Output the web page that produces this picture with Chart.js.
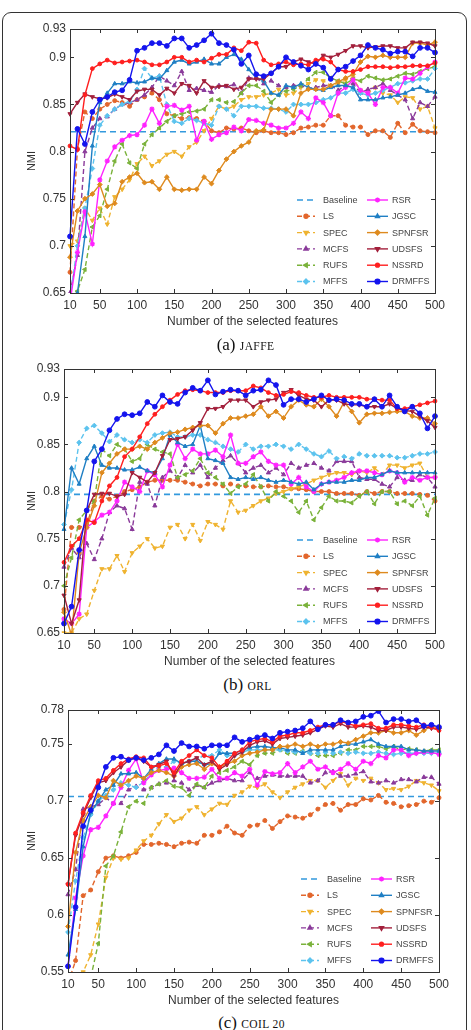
<!DOCTYPE html>
<html>
<head>
<meta charset="utf-8">
<script src="https://cdn.jsdelivr.net/npm/chart.js@4.4.1/dist/chart.umd.min.js"></script>
<style>
  html, body { margin: 0; padding: 0; background: #fff; }
  body { width: 471px; height: 1030px; position: relative; overflow: hidden; }
  #frame { position: absolute; left: 2px; top: 12px; width: 463px; height: 1040px; border: 1.5px solid #333; border-radius: 9px; }
  canvas { position: absolute; left: 0; display: block; }
  .cap { position: absolute; width: 471px; left: 0; text-align: center; font-family: "Liberation Serif", "DejaVu Serif", serif; font-size: 17px; line-height: 20px; color: #111; }
  .cap span { font-size: 11.5px; letter-spacing: 0.4px; }
</style>
</head>
<body>
<div id="frame"></div>
<canvas id="cA" width="471" height="318" style="top:15px"></canvas>
<canvas id="cB" width="471" height="318" style="top:355px"></canvas>
<canvas id="cC" width="471" height="316" style="top:696px"></canvas>
<div class="cap" style="top:335px;left:10px">(a) <span>JAFFE</span></div>
<div class="cap" style="top:675px;left:12px">(b) <span>ORL</span></div>
<div class="cap" style="top:1013px;left:16px">(c) <span>COIL 20</span></div>
<script>
// number of selected features
const features = [10,20,30,40,50,60,70,80,90,100,110,120,130,140,150,160,170,180,190,200,
  210,220,230,240,250,260,270,280,290,300,310,320,330,340,350,360,370,380,390,400,
  410,420,430,440,450,460,470,480,490,500];
const xTicks = [10,50,100,150,200,250,300,350,400,450,500];
const yTicksAB = [0.65,0.7,0.75,0.8,0.85,0.9,0.93];
const yTicksC = [0.55,0.6,0.65,0.7,0.75,0.78];
const methods = ['Baseline','LS','SPEC','MCFS','RUFS','MFFS','RSR','JGSC','SPNFSR','UDSFS','NSSRD','DRMFFS'];

// (a) JAFFE
const jaffeBaseline = 0.821;
const jaffeLS = [0.672,0.803,0.842,0.835,0.845,0.850,0.854,0.852,0.848,0.855,0.858,0.862,0.855,0.840,0.838,0.835,0.836,0.835,0.832,0.822,
  0.820,0.825,0.824,0.825,0.822,0.820,0.822,0.820,0.820,0.818,0.820,0.825,0.826,0.828,0.828,0.838,0.838,0.828,0.826,0.826,
  0.818,0.822,0.822,0.815,0.830,0.820,0.829,0.822,0.821,0.820];
const jaffeSPEC = [0.700,0.705,0.740,0.727,0.740,0.723,0.752,0.760,0.770,0.787,0.795,0.785,0.790,0.797,0.800,0.795,0.805,0.810,0.822,0.835,
  0.848,0.845,0.848,0.855,0.858,0.858,0.860,0.862,0.866,0.860,0.862,0.868,0.872,0.876,0.875,0.870,0.872,0.876,0.878,0.865,
  0.862,0.868,0.862,0.860,0.852,0.858,0.857,0.845,0.848,0.825];
const jaffeMCFS = [0.650,0.690,0.800,0.825,0.835,0.837,0.845,0.850,0.852,0.855,0.860,0.868,0.880,0.875,0.870,0.885,0.865,0.867,0.865,0.863,
  0.870,0.869,0.871,0.862,0.878,0.878,0.872,0.875,0.870,0.868,0.870,0.870,0.867,0.868,0.870,0.870,0.865,0.870,0.872,0.862,
  0.866,0.868,0.872,0.865,0.860,0.855,0.835,0.852,0.848,0.858];
const jaffeRUFS = [0.640,0.652,0.675,0.720,0.732,0.760,0.790,0.808,0.788,0.782,0.808,0.818,0.825,0.832,0.838,0.840,0.842,0.843,0.845,0.855,
  0.855,0.852,0.853,0.862,0.870,0.870,0.864,0.852,0.860,0.864,0.866,0.870,0.877,0.884,0.884,0.878,0.875,0.872,0.877,0.875,
  0.880,0.878,0.876,0.877,0.880,0.883,0.882,0.885,0.888,0.890];
const jaffeMFFS = [0.645,0.700,0.740,0.782,0.828,0.838,0.845,0.850,0.853,0.866,0.888,0.878,0.880,0.850,0.832,0.830,0.835,0.833,0.830,0.828,
  0.848,0.845,0.838,0.848,0.848,0.848,0.846,0.846,0.845,0.842,0.850,0.850,0.850,0.852,0.855,0.857,0.862,0.862,0.866,0.862,
  0.860,0.862,0.865,0.868,0.872,0.873,0.875,0.877,0.877,0.888];
const jaffeRSR = [0.640,0.693,0.736,0.702,0.770,0.790,0.805,0.812,0.817,0.818,0.828,0.845,0.830,0.848,0.849,0.844,0.848,0.812,0.832,0.813,
  0.818,0.820,0.826,0.822,0.834,0.833,0.830,0.828,0.825,0.825,0.830,0.842,0.835,0.857,0.852,0.838,0.862,0.868,0.876,0.865,
  0.862,0.850,0.868,0.868,0.862,0.878,0.877,0.883,0.890,0.895];
const jaffeJGSC = [0.640,0.650,0.710,0.806,0.852,0.862,0.872,0.872,0.874,0.873,0.874,0.878,0.877,0.886,0.895,0.897,0.893,0.895,0.898,0.893,
  0.893,0.900,0.903,0.898,0.887,0.878,0.875,0.862,0.860,0.870,0.868,0.872,0.868,0.866,0.865,0.868,0.870,0.870,0.868,0.855,
  0.855,0.855,0.857,0.858,0.860,0.862,0.866,0.868,0.864,0.863];
const jaffeSPNFSR = [0.688,0.737,0.750,0.755,0.765,0.742,0.745,0.768,0.773,0.777,0.767,0.768,0.760,0.773,0.760,0.759,0.760,0.760,0.773,0.766,
  0.780,0.792,0.800,0.806,0.810,0.822,0.823,0.845,0.845,0.845,0.838,0.862,0.866,0.866,0.866,0.870,0.874,0.878,0.882,0.895,
  0.901,0.900,0.902,0.900,0.900,0.900,0.915,0.915,0.913,0.916];
const jaffeUDSFS = [0.840,0.852,0.861,0.858,0.856,0.857,0.861,0.858,0.855,0.864,0.866,0.866,0.860,0.867,0.862,0.872,0.870,0.862,0.875,0.868,
  0.869,0.870,0.866,0.868,0.877,0.877,0.877,0.883,0.890,0.890,0.895,0.898,0.895,0.893,0.902,0.900,0.903,0.907,0.912,0.912,
  0.910,0.911,0.912,0.912,0.910,0.910,0.916,0.916,0.915,0.912];
const jaffeNSSRD = [0.806,0.802,0.860,0.888,0.893,0.897,0.894,0.895,0.896,0.897,0.895,0.892,0.892,0.895,0.900,0.900,0.895,0.897,0.895,0.899,
  0.903,0.903,0.910,0.907,0.916,0.915,0.897,0.892,0.893,0.895,0.892,0.893,0.892,0.897,0.898,0.895,0.887,0.885,0.885,0.887,
  0.890,0.890,0.890,0.889,0.890,0.890,0.891,0.891,0.891,0.894];
const jaffeDRMFFS = [0.710,0.824,0.808,0.842,0.855,0.858,0.863,0.865,0.876,0.907,0.910,0.915,0.915,0.912,0.920,0.920,0.910,0.913,0.918,0.925,
  0.915,0.913,0.908,0.893,0.902,0.882,0.880,0.883,0.890,0.900,0.895,0.891,0.887,0.893,0.889,0.877,0.887,0.890,0.896,0.902,
  0.913,0.910,0.908,0.904,0.906,0.906,0.901,0.910,0.910,0.905];

// (b) ORL
const orlBaseline = 0.797;
const orlLS = [0.675,0.762,0.762,0.765,0.790,0.795,0.792,0.795,0.800,0.802,0.805,0.810,0.812,0.812,0.812,0.812,0.810,0.808,0.806,0.808,
  0.808,0.806,0.808,0.806,0.806,0.805,0.805,0.806,0.805,0.805,0.803,0.803,0.802,0.800,0.800,0.800,0.798,0.798,0.798,0.796,
  0.800,0.798,0.800,0.800,0.798,0.798,0.798,0.797,0.796,0.790];
const orlSPEC = [0.650,0.650,0.665,0.670,0.695,0.718,0.718,0.732,0.715,0.735,0.742,0.750,0.740,0.742,0.762,0.765,0.750,0.765,0.748,0.768,
  0.765,0.760,0.790,0.778,0.780,0.785,0.790,0.793,0.798,0.800,0.803,0.805,0.808,0.812,0.815,0.818,0.820,0.820,0.818,0.822,
  0.820,0.825,0.818,0.828,0.828,0.825,0.828,0.830,0.815,0.815];
const orlMCFS = [0.720,0.740,0.730,0.745,0.728,0.750,0.778,0.785,0.782,0.760,0.810,0.808,0.785,0.815,0.822,0.815,0.828,0.820,0.828,0.815,
  0.825,0.833,0.838,0.830,0.820,0.825,0.828,0.820,0.825,0.818,0.830,0.825,0.828,0.830,0.825,0.822,0.832,0.832,0.832,0.815,
  0.813,0.813,0.808,0.805,0.815,0.812,0.812,0.818,0.815,0.805];
const orlRUFS = [0.700,0.730,0.770,0.780,0.790,0.845,0.838,0.850,0.845,0.832,0.835,0.850,0.845,0.842,0.840,0.815,0.818,0.822,0.835,0.820,
  0.815,0.808,0.798,0.805,0.808,0.818,0.805,0.790,0.800,0.795,0.790,0.778,0.790,0.770,0.783,0.795,0.790,0.790,0.788,0.795,
  0.800,0.787,0.800,0.800,0.787,0.790,0.785,0.795,0.775,0.793];
const orlMFFS = [0.765,0.802,0.852,0.867,0.870,0.862,0.853,0.860,0.855,0.852,0.855,0.852,0.860,0.862,0.863,0.858,0.858,0.860,0.860,0.855,
  0.852,0.848,0.845,0.842,0.850,0.845,0.848,0.848,0.850,0.848,0.845,0.850,0.845,0.840,0.837,0.843,0.835,0.837,0.835,0.840,
  0.838,0.838,0.838,0.838,0.836,0.836,0.838,0.840,0.840,0.842];
const orlRSR = [0.665,0.660,0.670,0.762,0.768,0.775,0.778,0.790,0.810,0.805,0.800,0.822,0.818,0.805,0.828,0.850,0.835,0.845,0.840,0.840,
  0.844,0.837,0.860,0.830,0.830,0.837,0.842,0.832,0.828,0.828,0.808,0.815,0.805,0.800,0.808,0.810,0.812,0.815,0.820,0.822,
  0.822,0.820,0.818,0.822,0.820,0.810,0.815,0.812,0.815,0.815];
const orlJGSC = [0.760,0.825,0.808,0.835,0.848,0.828,0.825,0.825,0.823,0.823,0.826,0.822,0.820,0.835,0.860,0.852,0.848,0.850,0.870,0.835,
  0.833,0.830,0.815,0.813,0.815,0.813,0.815,0.812,0.810,0.812,0.810,0.808,0.810,0.802,0.808,0.810,0.810,0.810,0.812,0.812,
  0.815,0.815,0.818,0.822,0.820,0.820,0.820,0.820,0.820,0.820];
const orlSPNFSR = [0.672,0.648,0.735,0.762,0.785,0.820,0.830,0.840,0.845,0.845,0.848,0.845,0.852,0.857,0.862,0.863,0.866,0.868,0.870,0.870,
  0.862,0.872,0.878,0.878,0.880,0.882,0.890,0.880,0.885,0.878,0.890,0.897,0.892,0.890,0.898,0.890,0.880,0.895,0.885,0.873,
  0.882,0.883,0.883,0.884,0.885,0.885,0.880,0.878,0.878,0.872];
const orlUDSFS = [0.690,0.660,0.685,0.780,0.797,0.798,0.798,0.795,0.797,0.820,0.815,0.810,0.820,0.838,0.855,0.856,0.858,0.865,0.873,0.888,
  0.888,0.890,0.897,0.897,0.897,0.890,0.895,0.897,0.898,0.905,0.908,0.902,0.898,0.897,0.890,0.897,0.897,0.893,0.892,0.892,
  0.890,0.890,0.890,0.893,0.888,0.886,0.885,0.880,0.875,0.868];
const orlNSSRD = [0.725,0.742,0.750,0.770,0.767,0.790,0.806,0.815,0.837,0.845,0.858,0.872,0.882,0.890,0.897,0.903,0.907,0.908,0.907,0.905,
  0.905,0.905,0.907,0.907,0.907,0.912,0.910,0.905,0.902,0.903,0.906,0.905,0.902,0.900,0.900,0.902,0.900,0.900,0.900,0.900,
  0.898,0.898,0.897,0.897,0.888,0.888,0.890,0.892,0.894,0.896];
const orlDRMFFS = [0.660,0.678,0.738,0.780,0.832,0.845,0.865,0.877,0.882,0.881,0.883,0.895,0.890,0.902,0.895,0.893,0.905,0.910,0.907,0.918,
  0.903,0.906,0.908,0.907,0.902,0.907,0.908,0.918,0.913,0.892,0.898,0.898,0.895,0.898,0.902,0.897,0.898,0.897,0.893,0.893,
  0.890,0.898,0.890,0.902,0.890,0.885,0.890,0.883,0.867,0.880];

// (c) COIL 20
const coilBaseline = 0.704;
const coilLS = [0.540,0.560,0.617,0.622,0.638,0.650,0.652,0.650,0.652,0.655,0.662,0.662,0.663,0.662,0.660,0.663,0.664,0.663,0.670,0.670,
  0.673,0.678,0.672,0.670,0.678,0.679,0.683,0.676,0.682,0.687,0.686,0.685,0.688,0.693,0.697,0.698,0.692,0.697,0.697,0.702,
  0.701,0.705,0.699,0.698,0.695,0.696,0.697,0.700,0.699,0.703];
const coilSPEC = [0.540,0.535,0.550,0.565,0.592,0.633,0.650,0.649,0.650,0.657,0.665,0.670,0.680,0.688,0.682,0.685,0.692,0.695,0.688,0.693,
  0.698,0.697,0.705,0.708,0.713,0.712,0.715,0.708,0.703,0.708,0.712,0.715,0.718,0.718,0.712,0.718,0.724,0.714,0.720,0.718,
  0.720,0.716,0.710,0.711,0.710,0.713,0.718,0.716,0.714,0.709];
const coilMCFS = [0.618,0.640,0.693,0.695,0.697,0.703,0.698,0.698,0.710,0.713,0.710,0.712,0.715,0.716,0.718,0.716,0.710,0.714,0.712,0.716,
  0.718,0.720,0.718,0.718,0.725,0.720,0.722,0.723,0.722,0.722,0.722,0.722,0.716,0.718,0.725,0.726,0.722,0.722,0.724,0.726,
  0.717,0.716,0.718,0.716,0.719,0.719,0.717,0.721,0.721,0.715];
const coilRUFS = [0.540,0.530,0.530,0.545,0.575,0.643,0.652,0.673,0.695,0.700,0.698,0.712,0.715,0.718,0.713,0.712,0.705,0.715,0.712,0.722,
  0.725,0.727,0.730,0.735,0.732,0.740,0.742,0.742,0.745,0.742,0.742,0.744,0.742,0.740,0.740,0.740,0.742,0.745,0.745,0.748,
  0.748,0.748,0.746,0.748,0.745,0.746,0.745,0.744,0.745,0.745];
const coilMFFS = [0.585,0.630,0.668,0.688,0.700,0.705,0.710,0.716,0.714,0.712,0.717,0.724,0.730,0.730,0.735,0.733,0.735,0.737,0.740,0.740,
  0.745,0.740,0.740,0.743,0.745,0.745,0.745,0.745,0.745,0.744,0.743,0.743,0.742,0.742,0.743,0.742,0.743,0.742,0.743,0.742,
  0.742,0.743,0.742,0.741,0.742,0.742,0.742,0.742,0.742,0.742];
const coilRSR = [0.555,0.615,0.652,0.675,0.677,0.687,0.698,0.712,0.727,0.737,0.716,0.723,0.727,0.728,0.729,0.725,0.720,0.720,0.721,0.728,
  0.720,0.720,0.725,0.722,0.728,0.714,0.726,0.724,0.725,0.733,0.725,0.730,0.735,0.728,0.730,0.725,0.728,0.733,0.728,0.735,
  0.733,0.740,0.738,0.745,0.745,0.740,0.742,0.743,0.743,0.741];
const coilJGSC = [0.565,0.605,0.660,0.690,0.700,0.710,0.714,0.724,0.724,0.725,0.720,0.728,0.733,0.737,0.737,0.733,0.735,0.735,0.732,0.733,
  0.742,0.742,0.742,0.745,0.747,0.748,0.748,0.747,0.747,0.745,0.745,0.742,0.745,0.745,0.745,0.745,0.748,0.750,0.750,0.752,
  0.754,0.750,0.748,0.748,0.748,0.745,0.745,0.744,0.744,0.744];
const coilSPNFSR = [0.590,0.655,0.683,0.695,0.705,0.703,0.718,0.714,0.718,0.722,0.720,0.725,0.727,0.725,0.722,0.730,0.732,0.733,0.728,0.733,
  0.730,0.733,0.735,0.740,0.742,0.743,0.745,0.745,0.748,0.748,0.750,0.748,0.750,0.748,0.750,0.750,0.752,0.751,0.754,0.757,
  0.760,0.760,0.762,0.760,0.760,0.762,0.758,0.762,0.766,0.764];
const coilUDSFS = [0.627,0.670,0.688,0.703,0.716,0.718,0.725,0.730,0.736,0.738,0.735,0.730,0.732,0.735,0.722,0.733,0.735,0.738,0.732,0.735,
  0.728,0.732,0.740,0.743,0.749,0.752,0.753,0.750,0.755,0.756,0.757,0.758,0.760,0.763,0.766,0.765,0.768,0.765,0.765,0.766,
  0.765,0.762,0.762,0.765,0.765,0.764,0.763,0.765,0.764,0.763];
const coilNSSRD = [0.627,0.672,0.690,0.705,0.718,0.720,0.727,0.733,0.737,0.739,0.738,0.730,0.731,0.733,0.725,0.735,0.740,0.745,0.740,0.738,
  0.730,0.735,0.742,0.745,0.752,0.754,0.755,0.752,0.757,0.758,0.760,0.760,0.762,0.765,0.767,0.767,0.770,0.768,0.766,0.767,
  0.768,0.764,0.764,0.767,0.767,0.766,0.765,0.767,0.765,0.762];
const coilDRMFFS = [0.555,0.607,0.678,0.692,0.712,0.730,0.738,0.739,0.736,0.738,0.736,0.738,0.741,0.749,0.744,0.751,0.748,0.748,0.746,0.749,
  0.749,0.749,0.756,0.752,0.754,0.756,0.758,0.755,0.760,0.761,0.762,0.764,0.770,0.763,0.767,0.767,0.771,0.769,0.770,0.774,
  0.775,0.779,0.769,0.772,0.772,0.770,0.771,0.766,0.767,0.765];

// line styles, one per method
const colors = ['#3399dd','#e2662c','#efb330','#8a3a9a','#7ab23a','#5cc3ee','#ff22ff','#1f7fc4','#de8a1e','#a3203c','#ff1f1f','#1414ee'];
const dashed = [true,true,true,true,true,true,false,false,false,false,false,false];
const pStyle = [false,'circle','triangle','triangle','triangle','rectRot','star','triangle','rectRot','triangle','circle','circle'];
const pRot = [0,0,180,0,270,0,0,0,0,180,0,0];
const pRad = [0,2,2.4,2.4,2.4,2.4,2.6,2.3,2.4,2.4,1.9,2.4];

const font = "'Liberation Sans', Arial, sans-serif";
const axisColor = '#333';

function makeDatasets(base, series) {
  const sets = [{ x: features[0], y: base }, { x: features[features.length - 1], y: base }];
  const all = [sets].concat(series.map(s => s.map((v, i) => ({ x: features[i], y: v }))));
  return all.map((data, i) => ({
    label: methods[i],
    data: data,
    borderColor: colors[i],
    backgroundColor: colors[i],
    borderWidth: i === 0 ? 1.6 : 1.4,
    borderDash: dashed[i] ? (i === 0 ? [6, 4] : [5, 3]) : [],
    pointStyle: pStyle[i],
    pointRotation: pRot[i],
    pointRadius: pRad[i],
    pointBorderWidth: i === 6 ? 1.3 : 1,
    tension: 0,
    order: 11 - i,
    clip: { left: 4, right: 4, top: 0, bottom: 0 }
  }));
}

// box, inside ticks and the two-column legend (MATLAB look)
const frameAndLegend = {
  id: 'frameAndLegend',
  afterDatasetsDraw(chart) {
    const { ctx, chartArea: { left, right, top, bottom }, scales: { x, y } } = chart;
    ctx.save();
    ctx.strokeStyle = axisColor;
    ctx.lineWidth = 1;
    ctx.setLineDash([]);
    ctx.strokeRect(left + 0.5, top + 0.5, right - left, bottom - top);
    ctx.beginPath();
    xTicks.forEach(v => {
      const px = Math.round(x.getPixelForValue(v)) + 0.5;
      ctx.moveTo(px, bottom); ctx.lineTo(px, bottom - 4);
      ctx.moveTo(px, top); ctx.lineTo(px, top + 4);
    });
    y.ticks.forEach(t => {
      const py = Math.round(y.getPixelForValue(t.value)) + 0.5;
      ctx.moveTo(left, py); ctx.lineTo(left + 4, py);
      ctx.moveTo(right, py); ctx.lineTo(right - 4, py);
    });
    ctx.stroke();

    ctx.font = '9px ' + font;
    ctx.textBaseline = 'middle';
    ctx.textAlign = 'left';
    chart.data.datasets.forEach((ds, i) => {
      const col = i < 6 ? 0 : 1;
      const row = i % 6;
      const yy = bottom - 11.5 - (5 - row) * 16.3;
      const x0 = col === 0 ? right - 138 : right - 68;
      const x1 = col === 0 ? right - 120 : right - 47;
      const tx = col === 0 ? right - 112 : right - 43;
      ctx.strokeStyle = ds.borderColor;
      ctx.lineWidth = ds.borderWidth;
      ctx.setLineDash(ds.borderDash);
      ctx.beginPath(); ctx.moveTo(x0, yy); ctx.lineTo(x1, yy); ctx.stroke();
      ctx.setLineDash([]);
      if (ds.pointStyle) {
        ctx.fillStyle = ds.backgroundColor;
        Chart.helpers.drawPoint(ctx, { pointStyle: ds.pointStyle, rotation: ds.pointRotation, radius: ds.pointRadius, borderWidth: ds.pointBorderWidth }, (x0 + x1) / 2, yy);
      }
      ctx.fillStyle = '#444';
      ctx.fillText(ds.label, tx, yy + 0.5);
    });
    ctx.restore();
  }
};

function drawPanel(id, base, series, yTicks, ymin, ymax, plotLeft, plotRight, padTop) {
  new Chart(document.getElementById(id), {
    type: 'line',
    data: { datasets: makeDatasets(base, series) },
    options: {
      responsive: false,
      animation: false,
      events: [],
      layout: { padding: { top: padTop, right: 471 - plotRight, left: 0, bottom: 0 } },
      plugins: { legend: { display: false }, tooltip: { enabled: false } },
      scales: {
        x: {
          type: 'linear', min: 10, max: 500,
          afterBuildTicks: s => { s.ticks = xTicks.map(v => ({ value: v })); },
          afterFit: s => { s.height = 40; },
          grid: { display: false, drawTicks: false, tickLength: 0 }, border: { display: false },
          ticks: { font: { family: font, size: 12 }, color: axisColor, padding: 5, maxRotation: 0, autoSkip: false, callback: v => String(v) },
          title: { display: true, text: 'Number of the selected features', font: { family: font, size: 12 }, color: axisColor, padding: { top: 0, bottom: 4 } }
        },
        y: {
          type: 'linear', min: ymin, max: ymax,
          afterBuildTicks: s => { s.ticks = yTicks.map(v => ({ value: v })); },
          afterFit: s => { s.width = plotLeft; },
          grid: { display: false, drawTicks: false, tickLength: 0 }, border: { display: false },
          ticks: { font: { family: font, size: 12 }, color: axisColor, padding: 4, autoSkip: false, callback: v => String(+v.toFixed(2)) },
          title: { display: true, text: 'NMI', font: { family: font, size: 11 }, color: axisColor, padding: { top: 25, bottom: 0 } }
        }
      }
    },
    plugins: [frameAndLegend]
  });
}

drawPanel('cA', jaffeBaseline,
  [jaffeLS, jaffeSPEC, jaffeMCFS, jaffeRUFS, jaffeMFFS, jaffeRSR, jaffeJGSC, jaffeSPNFSR, jaffeUDSFS, jaffeNSSRD, jaffeDRMFFS],
  yTicksAB, 0.65, 0.93, 70, 435, 14);
drawPanel('cB', orlBaseline,
  [orlLS, orlSPEC, orlMCFS, orlRUFS, orlMFFS, orlRSR, orlJGSC, orlSPNFSR, orlUDSFS, orlNSSRD, orlDRMFFS],
  yTicksAB, 0.65, 0.93, 64, 435, 14);
drawPanel('cC', coilBaseline,
  [coilLS, coilSPEC, coilMCFS, coilRUFS, coilMFFS, coilRSR, coilJGSC, coilSPNFSR, coilUDSFS, coilNSSRD, coilDRMFFS],
  yTicksC, 0.55, 0.78, 68, 439, 14);
</script>
</body>
</html>
